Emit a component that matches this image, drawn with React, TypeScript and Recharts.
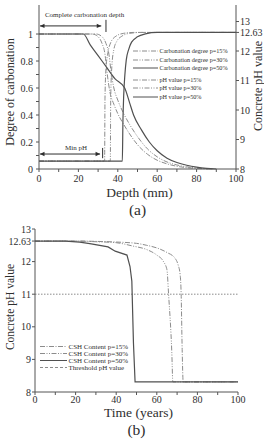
import React from 'react';
import { LineChart, Line, XAxis, YAxis, ReferenceLine, Legend, Label } from 'recharts';

type Pt = [number, number];

const FONT = '"Liberation Serif", "Times New Roman", serif';
const INK = '#2e2e2e';
const AXIS = '#555';
const SOLID = '#505050';
const DASHED = '#8c8c8c';

const DASH_DOT = '5 1.5 1 1.5';
const DASH_DOT_DOT = '5 1.5 1 1.5 1 1.5';

// (a) depth (mm) against degree of carbonation / concrete pH
const depthTicks = [0, 10, 20, 30, 40, 50, 60, 70, 80, 90, 100];
const carbTicks = [0, 0.1, 0.2, 0.3, 0.4, 0.5, 0.6, 0.7, 0.8, 0.9, 1];
const phTicksA = [8, 9, 10, 11, 12, 12.63, 13];

const carbDeg15: Pt[] = [
  [0, 1], [27, 1], [30, 0.98], [32, 0.93], [33.5, 0.85], [34.5, 0.72], [36, 0.57], [38, 0.48],
  [40, 0.41], [43, 0.33], [46, 0.26], [50, 0.18], [55, 0.11], [60, 0.065], [65, 0.038],
  [70, 0.02], [75, 0.01], [80, 0.005], [86, 0],
];
const carbDeg30: Pt[] = [
  [0, 1], [29, 1], [32, 0.98], [34, 0.93], [35.5, 0.85], [36.5, 0.73], [38, 0.6], [40, 0.51],
  [43, 0.41], [46, 0.33], [50, 0.24], [55, 0.15], [60, 0.09], [65, 0.052], [70, 0.03],
  [75, 0.016], [80, 0.008], [88, 0],
];
const carbDeg50: Pt[] = [
  [0, 1], [22.5, 1], [26, 0.92], [30, 0.84], [34, 0.76], [38.5, 0.67], [43.5, 0.6],
  [46, 0.49], [48, 0.4], [52, 0.29], [56, 0.2], [60, 0.135], [65, 0.08], [70, 0.048],
  [75, 0.028], [80, 0.014], [85, 0.005], [90, 0],
];
const phDepth15: Pt[] = [
  [0, 8.27], [33.3, 8.27], [33.5, 10.4], [34, 11.4], [35, 11.95], [36.5, 12.3], [39, 12.5],
  [43, 12.6], [48, 12.63], [100, 12.63],
];
const phDepth30: Pt[] = [
  [0, 8.27], [36.2, 8.27], [36.4, 10.4], [37, 11.5], [38, 12.05], [39.5, 12.33], [42, 12.5],
  [46, 12.6], [52, 12.63], [100, 12.63],
];
const phDepth50: Pt[] = [
  [0, 8.27], [42.3, 8.27], [42.6, 9.6], [43, 10.5], [43.6, 11.2], [44.3, 11.7], [45.5, 12.05],
  [47, 12.3], [50, 12.48], [54, 12.58], [60, 12.63], [100, 12.63],
];

// (b) time (years) against concrete pH
const timeTicks = [0, 10, 20, 30, 40, 50, 60, 70, 80, 90, 100];
const phTicksB = [8, 9, 10, 11, 12, 12.63, 13];
const THRESHOLD_PH = 11;

const cshTime15: Pt[] = [
  [0, 12.63], [20, 12.63], [30, 12.62], [40, 12.6], [50, 12.56], [55, 12.5], [60, 12.42],
  [65, 12.28], [69, 12.1], [70.5, 11.9], [71.5, 11.6], [72, 11], [72.5, 9.3], [73, 8.31],
  [100, 8.31],
];
const cshTime30: Pt[] = [
  [0, 12.63], [20, 12.63], [30, 12.61], [40, 12.58], [48, 12.48], [55, 12.37], [60, 12.2],
  [63.3, 12], [65, 11.75], [65.8, 11], [67.4, 9.2], [67.9, 8.31], [100, 8.31],
];
const cshTime50: Pt[] = [
  [0, 12.63], [15, 12.63], [22, 12.6], [27, 12.55], [36, 12.45], [39.5, 12.32], [45.3, 12.2],
  [46.8, 11.85], [47.7, 11.4], [48.5, 9.5], [49.3, 8.31], [100, 8.31],
];

const pts = (arr: Pt[]) => arr.map(([x, v]) => ({ x, v }));

const tickStyle = { fontFamily: FONT, fontSize: 10, fill: INK };
const every20 = (v: number) => (v % 20 === 0 ? String(v) : '');
const everyFifth = (v: number) => {
  const r = Math.round(v * 10);
  return r % 2 === 0 ? String(r / 10) : '';
};
const phFmt = (v: number) => String(v);

// double-headed arrow with a caption above it
const arrowShape = (caption: string, dx: number, dy: number) => (p: any) => {
  const { x1, y1, x2, y2 } = p;
  const h = 4.5;
  return (
    <g>
      <line x1={x1} y1={y1} x2={x2} y2={y2} stroke={INK} strokeWidth={1} />
      <path d={`M${x1},${y1} L${x1 + h},${y1 - 2.2} L${x1 + h},${y1 + 2.2} Z`} fill={INK} />
      <path d={`M${x2},${y2} L${x2 - h},${y2 - 2.2} L${x2 - h},${y2 + 2.2} Z`} fill={INK} />
      <text
        x={(x1 + x2) / 2 + dx}
        y={y1 + dy}
        textAnchor="middle"
        fontFamily={FONT}
        fontSize={7}
        fill={INK}
      >
        {caption}
      </text>
    </g>
  );
};

type Row = { label: string; dash?: string; color: string; y: number };

const legendRowsA: Row[] = [
  { label: 'Carbonation degree p=15%', dash: DASH_DOT, color: DASHED, y: 4 },
  { label: 'Carbonation degree p=30%', dash: DASH_DOT_DOT, color: DASHED, y: 13 },
  { label: 'Carbonation degree p=50%', color: SOLID, y: 21 },
  { label: 'pH value p=15%', dash: DASH_DOT, color: DASHED, y: 33 },
  { label: 'pH value p=30%', dash: DASH_DOT_DOT, color: DASHED, y: 41 },
  { label: 'pH value p=50%', color: SOLID, y: 50 },
];

const legendRowsB: Row[] = [
  { label: 'CSH Content p=15%', dash: DASH_DOT, color: DASHED, y: 4.5 },
  { label: 'CSH Content p=30%', dash: DASH_DOT_DOT, color: DASHED, y: 11.5 },
  { label: 'CSH Content p=50%', color: SOLID, y: 18.5 },
  { label: 'Threshold pH value', dash: '3 2', color: DASHED, y: 25.5 },
];

const LegendBox = ({ rows, width, height, lineLen, fontSize }: {
  rows: Row[]; width: number; height: number; lineLen: number; fontSize: number;
}) => (
  <svg width={width} height={height} style={{ display: 'block' }}>
    {rows.map((r) => (
      <g key={r.label}>
        <line x1={0} y1={r.y} x2={lineLen} y2={r.y} stroke={r.color} strokeWidth={1} strokeDasharray={r.dash} />
        <text x={lineLen + 1.5} y={r.y + fontSize * 0.33} fontFamily={FONT} fontSize={fontSize} fill={INK}>
          {r.label}
        </text>
      </g>
    ))}
  </svg>
);

// axis title plus panel tag under the x axis
const XCaption = ({ viewBox, title, tag, titleDy, tagDy }: any) => {
  const cx = viewBox.x + viewBox.width / 2;
  return (
    <g>
      <text x={cx + 2} y={viewBox.y + titleDy} textAnchor="middle" fontFamily={FONT} fontSize={13.5} fill={INK}>
        {title}
      </text>
      <text x={cx} y={viewBox.y + tagDy} textAnchor="middle" fontFamily={FONT} fontSize={15.5} fill={INK}>
        {tag}
      </text>
    </g>
  );
};

const YCaption = ({ text, px, py, size }: any) => (
  <text
    x={px}
    y={py}
    transform={`rotate(-90 ${px} ${py})`}
    textAnchor="middle"
    dominantBaseline="central"
    fontFamily={FONT}
    fontSize={size}
    fill={INK}
  >
    {text}
  </text>
);

const DepthChart = () => (
  <LineChart width={264} height={220} margin={{ top: 5, right: 0, bottom: 0, left: 0 }}>
    <XAxis
      dataKey="x"
      type="number"
      domain={[0, 100]}
      ticks={depthTicks}
      tickFormatter={every20}
      height={51}
      tick={tickStyle}
      tickSize={3}
      tickMargin={3}
      stroke={AXIS}
      interval={0}
    >
      <Label content={<XCaption title="Depth (mm)" tag="(a)" titleDy={28} tagDy={46} />} />
    </XAxis>
    <XAxis xAxisId="top" orientation="top" type="number" domain={[0, 100]} height={0} tick={false} tickLine={false} stroke={AXIS} />
    <YAxis
      yAxisId="carb"
      type="number"
      domain={[0, 1.215]}
      ticks={carbTicks}
      tickFormatter={everyFifth}
      width={39}
      tick={tickStyle}
      tickSize={3}
      tickMargin={3}
      stroke={AXIS}
      interval={0}
    >
      <Label content={<YCaption text="Degree of carbonation" px={10} py={92} size={12} />} />
    </YAxis>
    <YAxis
      yAxisId="ph"
      orientation="right"
      type="number"
      domain={[8, 13.56]}
      ticks={phTicksA}
      tickFormatter={phFmt}
      width={28}
      tick={tickStyle}
      tickSize={3}
      tickMargin={1}
      stroke={AXIS}
      interval={0}
    >
      <Label content={<YCaption text="Concrete pH value" px={258} py={86} size={12} />} />
    </YAxis>

    <Line yAxisId="carb" data={pts(carbDeg15)} dataKey="v" type="monotone" stroke={DASHED} strokeWidth={1} strokeDasharray={DASH_DOT} dot={false} isAnimationActive={false} />
    <Line yAxisId="carb" data={pts(carbDeg30)} dataKey="v" type="monotone" stroke={DASHED} strokeWidth={1} strokeDasharray={DASH_DOT_DOT} dot={false} isAnimationActive={false} />
    <Line yAxisId="carb" data={pts(carbDeg50)} dataKey="v" type="monotone" stroke={SOLID} strokeWidth={1.2} dot={false} isAnimationActive={false} />
    <Line yAxisId="ph" data={pts(phDepth15)} dataKey="v" type="monotone" stroke={DASHED} strokeWidth={1} strokeDasharray={DASH_DOT} dot={false} isAnimationActive={false} />
    <Line yAxisId="ph" data={pts(phDepth30)} dataKey="v" type="monotone" stroke={DASHED} strokeWidth={1} strokeDasharray={DASH_DOT_DOT} dot={false} isAnimationActive={false} />
    <Line yAxisId="ph" data={pts(phDepth50)} dataKey="v" type="monotone" stroke={SOLID} strokeWidth={1.2} dot={false} isAnimationActive={false} />

    <ReferenceLine yAxisId="carb" segment={[{ x: 0.5, y: 1.06 }, { x: 31.6, y: 1.06 }]} shape={arrowShape('Complete carbonation depth', 14, -9)} />
    <ReferenceLine yAxisId="carb" segment={[{ x: 34, y: 1.015 }, { x: 34, y: 1.105 }]} stroke={INK} strokeWidth={1} />
    <ReferenceLine yAxisId="carb" segment={[{ x: 0.5, y: 0.111 }, { x: 31, y: 0.111 }]} shape={arrowShape('Min pH', 6, -4.5)} />
    <ReferenceLine yAxisId="carb" segment={[{ x: 32.3, y: 0.08 }, { x: 32.3, y: 0.156 }]} stroke={INK} strokeWidth={1} />

    <Legend
      layout="vertical"
      align="center"
      verticalAlign="middle"
      wrapperStyle={{ left: 133, top: 47, width: 110, height: 54 }}
      content={() => <LegendBox rows={legendRowsA} width={110} height={54} lineLen={25} fontSize={6.2} />}
    />
  </LineChart>
);

const TimeChart = () => (
  <LineChart width={264} height={221} margin={{ top: 9, right: 26, bottom: 0, left: 0 }}>
    <XAxis
      dataKey="x"
      type="number"
      domain={[0, 100]}
      ticks={timeTicks}
      tickFormatter={every20}
      height={49}
      tick={tickStyle}
      tickSize={3}
      tickMargin={1}
      stroke={AXIS}
      interval={0}
    >
      <Label content={<XCaption title="Time (years)" tag="(b)" titleDy={25} tagDy={43} />} />
    </XAxis>
    <XAxis xAxisId="top" orientation="top" type="number" domain={[0, 100]} height={0} tick={false} tickLine={false} stroke={AXIS} />
    <YAxis
      type="number"
      domain={[8, 13]}
      ticks={phTicksB}
      tickFormatter={phFmt}
      width={35}
      tick={tickStyle}
      tickSize={3}
      tickMargin={1}
      stroke={AXIS}
      interval={0}
    >
      <Label content={<YCaption text="Concrete pH value" px={10} py={87} size={11.5} />} />
    </YAxis>
    <YAxis yAxisId="frame" orientation="right" type="number" domain={[8, 13]} width={0} tick={false} tickLine={false} stroke={AXIS} />

    <ReferenceLine y={THRESHOLD_PH} stroke={DASHED} strokeWidth={1} strokeDasharray="1.5 1.5" />

    <Line data={pts(cshTime15)} dataKey="v" type="monotone" stroke={DASHED} strokeWidth={1} strokeDasharray={DASH_DOT} dot={false} isAnimationActive={false} />
    <Line data={pts(cshTime30)} dataKey="v" type="monotone" stroke={DASHED} strokeWidth={1} strokeDasharray={DASH_DOT_DOT} dot={false} isAnimationActive={false} />
    <Line data={pts(cshTime50)} dataKey="v" type="linear" stroke={SOLID} strokeWidth={1.2} dot={false} isAnimationActive={false} />

    <Legend
      layout="vertical"
      align="center"
      verticalAlign="middle"
      wrapperStyle={{ left: 40, top: 122, width: 100, height: 30 }}
      content={() => <LegendBox rows={legendRowsB} width={100} height={30} lineLen={27} fontSize={7} />}
    />
  </LineChart>
);

export default function App() {
  return (
    <div style={{ position: 'absolute', left: 0, top: 0, width: 264, height: 441, background: '#fff' }}>
      <div style={{ position: 'absolute', left: 0, top: 0 }}>
        <DepthChart />
      </div>
      <div style={{ position: 'absolute', left: 0, top: 220 }}>
        <TimeChart />
      </div>
    </div>
  );
}
